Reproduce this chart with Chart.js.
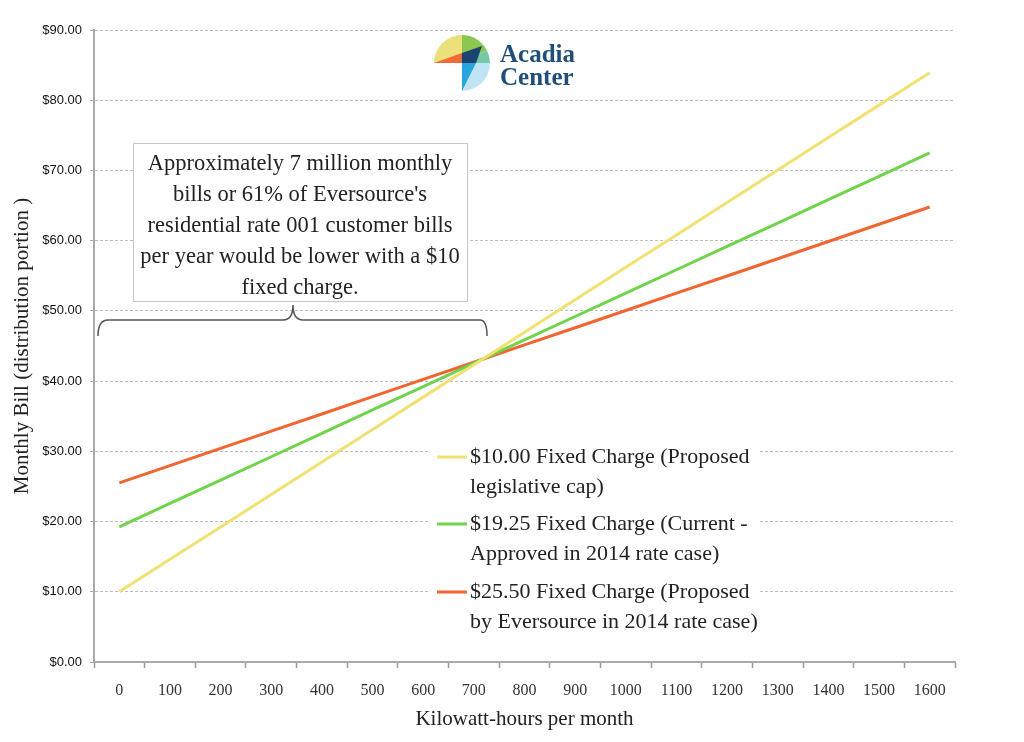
<!DOCTYPE html>
<html>
<head>
<meta charset="utf-8">
<script src="https://cdn.jsdelivr.net/npm/chart.js@4/dist/chart.umd.min.js"></script>
<style>
  html, body { margin: 0; padding: 0; background: #fff; }
  #wrap { width: 1024px; height: 742px; position: relative; }
</style>
</head>
<body>
<div id="wrap"><canvas id="billChart"></canvas></div>
<script>
// kWh per month (categories)
const kwhLabels = ["0", "100", "200", "300", "400", "500", "600", "700", "800",
  "900", "1000", "1100", "1200", "1300", "1400", "1500", "1600"];

// monthly bill, distribution portion ($)
const fixed10 = [10.00, 14.62, 19.24, 23.86, 28.48, 33.10, 37.72, 42.34, 46.96,
  51.58, 56.20, 60.82, 65.44, 70.06, 74.68, 79.30, 83.92];
const fixed1925 = [19.25, 22.58, 25.91, 29.23, 32.56, 35.89, 39.22, 42.55, 45.87,
  49.20, 52.53, 55.86, 59.19, 62.51, 65.84, 69.17, 72.50];
const fixed2550 = [25.50, 27.96, 30.41, 32.87, 35.32, 37.78, 40.24, 42.69, 45.15,
  47.60, 50.06, 52.52, 54.97, 57.43, 59.88, 62.34, 64.80];

const seriesNames = [
  ["$10.00 Fixed Charge (Proposed", "legislative cap)"],
  ["$19.25 Fixed Charge (Current -", "Approved in 2014 rate case)"],
  ["$25.50 Fixed Charge (Proposed", "by Eversource in 2014 rate case)"]
];
const seriesColors = ["#f1e072", "#6fd44c", "#f26430"];

const noteLines = [
  "Approximately 7 million monthly",
  "bills or 61% of Eversource's",
  "residential rate 001 customer bills",
  "per year would be lower with a $10",
  "fixed charge."
];

const SERIF = "'Liberation Serif', 'DejaVu Serif', serif";

// annotation box, brace, legend, logo and axis titles
const extras = {
  id: "extras",
  afterDraw(chart) {
    const ctx = chart.ctx;
    const area = chart.chartArea;
    ctx.save();

    // note box
    ctx.fillStyle = "#fff";
    ctx.fillRect(133, 143, 334, 158);
    ctx.strokeStyle = "#c8c8c8";
    ctx.lineWidth = 1;
    ctx.strokeRect(133.5, 143.5, 334, 158);
    ctx.fillStyle = "#222";
    ctx.font = "22.5px " + SERIF;
    ctx.textAlign = "center";
    ctx.textBaseline = "middle";
    noteLines.forEach((t, i) => ctx.fillText(t, 300, 164 + i * 31));

    // curly brace
    ctx.strokeStyle = "#555";
    ctx.lineWidth = 1.5;
    ctx.beginPath();
    ctx.moveTo(98, 336);
    ctx.quadraticCurveTo(98, 320, 108, 320);
    ctx.lineTo(283, 320);
    ctx.quadraticCurveTo(293, 320, 293, 305);
    ctx.quadraticCurveTo(293, 320, 303, 320);
    ctx.lineTo(480, 320);
    ctx.quadraticCurveTo(487, 320, 487, 336);
    ctx.stroke();

    // legend
    ctx.fillStyle = "#fff";
    ctx.fillRect(428, 440, 332, 196);
    ctx.font = "22px " + SERIF;
    ctx.textAlign = "left";
    const rows = [457, 524, 592];
    seriesNames.forEach((lines, i) => {
      ctx.strokeStyle = seriesColors[i];
      ctx.lineWidth = 3;
      ctx.beginPath();
      ctx.moveTo(437, rows[i]);
      ctx.lineTo(467, rows[i]);
      ctx.stroke();
      ctx.fillStyle = "#222";
      lines.forEach((t, j) => ctx.fillText(t, 470, rows[i] + j * 30));
    });

    // logo
    const cx = 462, cy = 63, r = 28;
    ctx.fillStyle = "#ebe07a";
    ctx.beginPath(); ctx.moveTo(cx, cy); ctx.arc(cx, cy, r, Math.PI, 1.5 * Math.PI); ctx.closePath(); ctx.fill();
    ctx.fillStyle = "#f26a35";
    ctx.beginPath(); ctx.moveTo(cx - r, cy); ctx.lineTo(cx, cy - 10); ctx.lineTo(cx, cy); ctx.closePath(); ctx.fill();
    ctx.fillStyle = "#8cc850";
    ctx.beginPath(); ctx.moveTo(cx, cy); ctx.arc(cx, cy, r, 1.5 * Math.PI, 1.85 * Math.PI); ctx.closePath(); ctx.fill();
    ctx.fillStyle = "#74c8a8";
    ctx.beginPath(); ctx.moveTo(cx, cy); ctx.arc(cx, cy, r, 1.85 * Math.PI, 2 * Math.PI); ctx.closePath(); ctx.fill();
    ctx.fillStyle = "#1b4470";
    ctx.beginPath(); ctx.moveTo(cx, cy - 10); ctx.lineTo(cx + 20, cy - 17); ctx.lineTo(cx + 14, cy); ctx.lineTo(cx, cy); ctx.closePath(); ctx.fill();
    ctx.fillStyle = "#bfe4f6";
    ctx.beginPath(); ctx.moveTo(cx, cy); ctx.arc(cx, cy, r, 0, 0.5 * Math.PI); ctx.closePath(); ctx.fill();
    ctx.fillStyle = "#2aa6df";
    ctx.beginPath(); ctx.moveTo(cx, cy); ctx.lineTo(cx + 14, cy); ctx.lineTo(cx, cy + r); ctx.closePath(); ctx.fill();
    ctx.fillStyle = "#1f4e7a";
    ctx.font = "bold 25px " + SERIF;
    ctx.textBaseline = "alphabetic";
    ctx.fillText("Acadia", 500, 62);
    ctx.fillText("Center", 500, 85);

    // axis titles
    ctx.fillStyle = "#222";
    ctx.font = "21px " + SERIF;
    ctx.textAlign = "center";
    ctx.textBaseline = "middle";
    ctx.fillText("Kilowatt-hours per month", (area.left + area.right) / 2, 719);
    ctx.translate(22, (area.top + area.bottom) / 2);
    ctx.rotate(-Math.PI / 2);
    ctx.fillText("Monthly Bill (distribution portion )", 0, 0);
    ctx.restore();
  }
};

const billCtx = document.getElementById("billChart").getContext("2d");
new Chart(billCtx, {
  type: "line",
  data: {
    labels: kwhLabels,
    datasets: [
      { label: seriesNames[0].join(" "), data: fixed10, borderColor: seriesColors[0] },
      { label: seriesNames[1].join(" "), data: fixed1925, borderColor: seriesColors[1] },
      { label: seriesNames[2].join(" "), data: fixed2550, borderColor: seriesColors[2] }
    ]
  },
  options: {
    responsive: true,
    maintainAspectRatio: false,
    animation: false,
    layout: { padding: { top: 30, right: 69, left: 0, bottom: 0 } },
    elements: {
      line: { borderWidth: 3, tension: 0 },
      point: { radius: 0 }
    },
    plugins: {
      legend: { display: false },
      tooltip: { enabled: false }
    },
    scales: {
      x: {
        type: "category",
        offset: true,
        afterFit: (s) => { s.height = 80; },
        grid: {
          offset: true,
          drawOnChartArea: false,
          tickLength: 6,
          tickColor: "#999",
          tickWidth: 1.5
        },
        border: { color: "#aaa", width: 2 },
        ticks: {
          autoSkip: false,
          maxRotation: 0,
          padding: 13,
          color: "#333",
          font: { family: SERIF, size: 16 }
        }
      },
      y: {
        min: 0,
        max: 90,
        afterFit: (s) => { s.width = 94; },
        grid: {
          color: "#bdbdbd",
          lineWidth: 1,
          tickLength: 4,
          tickColor: "#aaa",
          tickBorderDash: [10, 0]
        },
        border: { color: "#aaa", width: 2, dash: [3, 2] },
        ticks: {
          stepSize: 10,
          padding: 8,
          color: "#111",
          font: { family: "'Liberation Sans', Arial, sans-serif", size: 13 },
          callback: (v) => "$" + v.toFixed(2)
        }
      }
    }
  },
  plugins: [extras]
});
</script>
</body>
</html>
